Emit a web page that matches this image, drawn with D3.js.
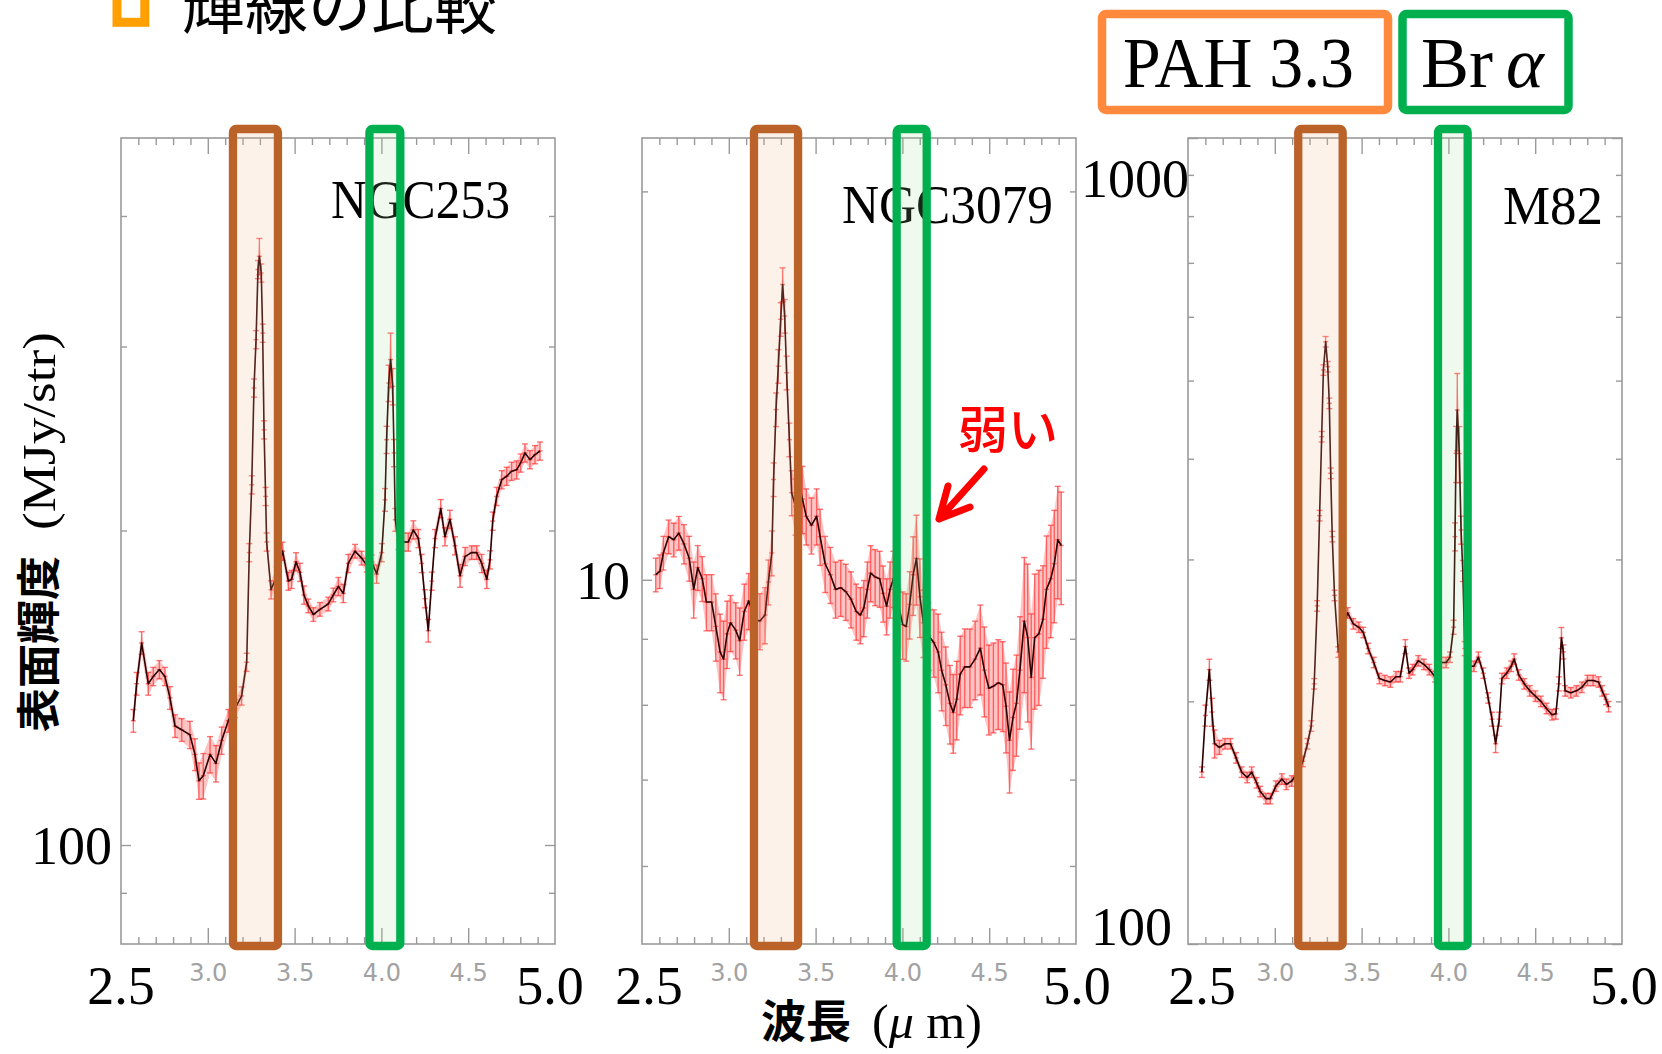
<!DOCTYPE html>
<html>
<head>
<meta charset="utf-8">
<script src="https://cdn.jsdelivr.net/npm/d3@7"></script>
<style>
  body { margin: 0; background: #fff; }
  svg { display: block; }
</style>
</head>
<body>
<svg id="chart" width="1662" height="1054"></svg>
<script>
// spectra: wavelength (um), surface brightness (MJy/str), error (%)
const ngc253Wave = [2.571,2.590,2.619,2.657,2.686,2.721,2.753,2.782,2.811,2.850,2.897,2.926,2.949,2.974,3.013,3.047,3.080,3.118,3.157,3.195,3.224,3.239,3.253,3.266,3.278,3.289,3.297,3.308,3.316,3.324,3.333,3.339,3.364,3.397,3.431,3.464,3.483,3.508,3.531,3.554,3.579,3.608,3.646,3.694,3.723,3.752,3.781,3.809,3.848,3.886,3.915,3.944,3.973,4.002,4.021,4.030,4.042,4.053,4.065,4.073,4.080,4.098,4.126,4.155,4.184,4.213,4.232,4.251,4.270,4.290,4.309,4.342,4.366,4.395,4.424,4.453,4.482,4.520,4.549,4.578,4.607,4.626,4.641,4.664,4.693,4.722,4.750,4.779,4.802,4.827,4.856,4.885,4.914];
const ngc253Flux = [131.5,142.7,156.1,142.7,145.0,147.2,145.0,138.3,130.0,128.9,127.5,122.1,115.2,116.5,122.1,119.7,125.9,131.5,135.1,138.9,149.6,190.5,221.2,273.8,304.6,355.5,366.0,352.8,309.0,249.7,215.6,195.0,175.5,181.0,191.1,178.9,179.6,186.7,182.4,173.5,169.4,166.2,168.1,170.1,173.5,176.8,174.1,186.0,191.1,188.2,185.3,186.7,181.7,190.5,214.0,244.3,276.8,291.5,274.8,237.3,204.8,195.7,195.0,195.0,200.3,196.5,186.0,172.1,160.4,178.9,196.5,209.9,197.3,205.0,193.4,181.0,188.9,190.5,190.5,186.0,179.6,187.5,204.2,215.6,223.7,225.4,227.9,228.6,232.1,237.3,233.8,236.4,238.3];
const ngc253Err = [2.5,2.5,2.5,2.5,2,2,2,2.5,2.5,2.5,3,3.5,4,5,4,4,3,2.5,2,2,2,2,2,2,2,2,4,2,2,2,2,2,2,2,2,2,2,2,2,2,1.5,1.5,1.5,1.5,1.5,2,2,2,1.5,1.5,1.5,1.5,2,2,2.5,3,4,6,4,3,2.5,2,2,2,2,2,2,2,2.5,2,2,2,2,2,2,2.5,2,1.5,1.5,2,2,2,2,2,2,2,2,2,2,2,2,2,2];

const ngc3079Wave = [2.579,2.603,2.623,2.653,2.683,2.712,2.742,2.772,2.798,2.821,2.847,2.871,2.901,2.925,2.950,2.970,2.990,3.010,3.040,3.063,3.089,3.115,3.149,3.179,3.209,3.228,3.248,3.258,3.272,3.285,3.299,3.310,3.322,3.333,3.349,3.362,3.384,3.402,3.424,3.446,3.476,3.506,3.526,3.555,3.585,3.615,3.645,3.674,3.704,3.734,3.758,3.778,3.798,3.817,3.843,3.869,3.889,3.909,3.929,3.948,3.972,4.002,4.022,4.042,4.062,4.081,4.101,4.121,4.151,4.181,4.206,4.226,4.250,4.274,4.293,4.313,4.333,4.359,4.389,4.419,4.449,4.472,4.498,4.524,4.552,4.578,4.597,4.617,4.637,4.657,4.677,4.702,4.722,4.742,4.762,4.786,4.810,4.830,4.855,4.875,4.895,4.915];
const ngc3079Flux = [10.09,10.15,10.49,10.80,10.74,10.87,10.66,10.39,9.83,10.22,10.02,9.61,9.61,9.20,8.79,8.68,9.08,9.26,9.14,8.97,9.45,9.63,9.32,9.29,9.39,9.96,10.49,11.96,13.55,14.64,15.92,16.94,16.01,14.47,12.84,11.68,11.40,11.90,11.55,11.20,11.02,11.20,10.80,10.29,10.09,9.83,9.86,9.79,9.66,9.45,9.39,9.51,9.83,10.12,10.05,10.02,9.76,9.54,9.83,10.02,9.63,9.23,9.20,9.57,10.09,10.39,9.70,9.26,9.05,8.94,8.79,8.51,8.29,8.02,7.89,8.08,8.45,8.56,8.56,8.68,8.85,8.51,8.24,8.27,8.32,8.29,7.98,7.51,7.82,8.02,8.51,9.29,9.02,8.40,9.02,9.08,9.32,9.83,10.02,10.29,10.74,10.63];
const ngc3079Err = [3,3,3,3,3,3,3.5,4,5,4,4,5,5,6,7,7,6,5,5,6,5,5,5,5,5,4,4,3,3,3,3,3,3,3,3,4,5,6,6,5,5,5,5,5,5,5,5,5,5,5,5,5,5,5,5,5,5,5,5,5,5,6,6,6,7,8,7,6,6,6,7,7,7,7,7,7,7,7,7,7,8,8,8,8,8,8,8,9,9,9,10,12,14,12,12,12,10,10,10,10,10,10];

const m82Wave = [2.580,2.600,2.623,2.638,2.653,2.681,2.713,2.745,2.777,2.809,2.841,2.867,2.895,2.916,2.949,2.974,3.006,3.041,3.066,3.098,3.131,3.162,3.188,3.210,3.227,3.244,3.258,3.270,3.280,3.293,3.305,3.314,3.322,3.331,3.344,3.366,3.395,3.420,3.452,3.484,3.510,3.538,3.570,3.602,3.634,3.666,3.698,3.723,3.752,3.773,3.794,3.826,3.859,3.890,3.923,3.955,3.987,4.009,4.030,4.038,4.044,4.051,4.063,4.073,4.083,4.094,4.116,4.147,4.173,4.201,4.229,4.251,4.272,4.293,4.308,4.336,4.362,4.379,4.405,4.437,4.469,4.501,4.533,4.565,4.597,4.619,4.636,4.651,4.662,4.672,4.705,4.737,4.769,4.801,4.833,4.865,4.886,4.908,4.923];
const m82Flux = [163.4,192.1,219.0,194.0,177.2,175.4,177.2,177.2,170.2,163.4,160.9,163.4,158.5,154.6,151.5,151.5,157.0,160.2,157.8,159.3,163.4,168.5,177.2,186.4,210.3,262.7,340.0,426.0,515.4,558.8,520.3,468.6,383.7,320.2,270.7,230.3,250.0,257.5,249.6,247.2,243.5,232.6,223.5,213.5,212.3,211.4,214.6,214.6,233.9,216.8,219.0,224.6,222.3,219.0,214.6,223.5,223.5,226.9,247.2,320.2,406.2,459.7,406.0,326.4,290.4,232.6,221.1,221.1,226.9,216.8,202.0,190.1,177.2,190.1,213.5,216.8,221.1,225.7,215.7,210.3,206.1,203.0,200.0,196.0,192.5,193.0,210.3,239.8,230.4,206.1,205.0,206.1,208.2,212.3,212.3,211.4,206.1,201.1,197.0];
const m82Err = [1.5,3,3,4,4,2,1.5,1.5,1.5,1.5,1.5,1.5,1.5,1.5,1.5,1.5,1.5,1.5,1.5,1.5,1.5,1.5,1.5,1.5,1.5,1.5,1.5,1.5,1.5,1.5,1.5,1.5,1.5,1.5,1.5,1.5,1.5,1.5,1.5,1.5,1.5,1.5,1.5,1.5,1.5,1.5,1.5,1.5,2,1.5,1.5,1.5,1.5,1.5,1.5,1.5,1.5,1.5,2,4,8,11,8,4,3,2,1.5,1.5,1.5,1.5,1.5,2,2.5,2,1.5,1.5,1.5,1.5,1.5,1.5,1.5,1.5,1.5,1.5,1.5,1.5,2,3,2,1.5,1.5,1.5,1.5,1.5,1.5,1.5,1.5,1.5,1.5];

const panelNames = ["NGC253", "NGC3079", "M82"];
const yDomains = [[80.4, 475], [5.22, 22.0], [100, 1000]];
const yMajorTicks = [[100], [10], [100, 1000]];
const yMinorTicks = [[90, 200, 300, 400], [6, 7, 8, 9, 20], [200, 300, 400, 500, 600, 700, 800, 900]];
const yBigLabels = [["100"], ["10"], ["1000", "100"]];
const xMajorTicks = [3.0, 3.5, 4.0, 4.5];
const xMinorTicks = [2.6, 2.7, 2.8, 2.9, 3.1, 3.2, 3.3, 3.4, 3.6, 3.7, 3.8, 3.9, 4.1, 4.2, 4.3, 4.4, 4.6, 4.7, 4.8, 4.9];
const xEdgeLabels = ["2.5", "5.0"];
const pahBoxes = [[3.145, 3.404], [3.145, 3.399], [3.135, 3.391]];
const braBoxes = [[3.931, 4.109], [3.967, 4.140], [3.940, 4.111]];

const spectra = [
  { wave: ngc253Wave, flux: ngc253Flux, err: ngc253Err },
  { wave: ngc3079Wave, flux: ngc3079Flux, err: ngc3079Err },
  { wave: m82Wave, flux: m82Flux, err: m82Err }
];

const svg = d3.select("#chart");
const serif = "'Liberation Serif', 'DejaVu Serif', serif";
const cjk = "'Noto Sans CJK JP', 'Noto Sans', sans-serif";

// layout of the three panels
const panelLeft = [121, 642, 1188];
const plotTop = 138, W = 434, H = 806, plotBottom = plotTop + H;
const nameRight = [510, 1053, 1603];
const nameBase = [218, 223, 224];
const nameLen = [179, 211, 100];
// big hand-placed numbers: x-edge label shifts, y labels (right edge, centre)
const edgeLabelDx = [[0, -5], [7, 1], [14, 2]];
const bigLabelPos = [[[112, 845]], [[630, 580]], [[1189, 178], [1172, 926]]];

panelNames.forEach((name, i) => {
  const left = panelLeft[i], right = left + W;
  const x = d3.scaleLinear().domain([2.5, 5.0]).range([left, right]);
  const y = d3.scaleLog().domain(yDomains[i]).range([plotBottom, plotTop]);
  const g = svg.append("g");

  // frame + inward ticks
  const axes = g.append("g").attr("class", "axes");
  axes.append("g").attr("transform", `translate(0,${plotBottom})`)
      .call(d3.axisBottom(x).tickValues(xMinorTicks).tickSize(-7).tickFormat(""));
  axes.append("g").attr("transform", `translate(0,${plotBottom})`)
      .call(d3.axisBottom(x).tickValues(xMajorTicks).tickSize(-16).tickPadding(20).tickFormat(d3.format(".1f")));
  axes.append("g").attr("transform", `translate(0,${plotTop})`)
      .call(d3.axisTop(x).tickValues(xMinorTicks).tickSize(-7).tickFormat(""));
  axes.append("g").attr("transform", `translate(0,${plotTop})`)
      .call(d3.axisTop(x).tickValues(xMajorTicks).tickSize(-16).tickFormat(""));
  axes.append("g").attr("transform", `translate(${left},0)`)
      .call(d3.axisLeft(y).tickValues(yMinorTicks[i]).tickSize(-6).tickFormat(""));
  axes.append("g").attr("transform", `translate(${left},0)`)
      .call(d3.axisLeft(y).tickValues(yMajorTicks[i]).tickSize(-10).tickFormat(""));
  axes.append("g").attr("transform", `translate(${right},0)`)
      .call(d3.axisRight(y).tickValues(yMinorTicks[i]).tickSize(-6).tickFormat(""));
  axes.append("g").attr("transform", `translate(${right},0)`)
      .call(d3.axisRight(y).tickValues(yMajorTicks[i]).tickSize(-10).tickFormat(""));
  axes.selectAll(".domain").remove();
  axes.selectAll("line").attr("stroke", "#9a9a9a").attr("stroke-width", 1.4);
  axes.selectAll("text")
      .attr("fill", "#a2a2a2")
      .style("font-family", "'DejaVu Sans', sans-serif")
      .style("font-size", "24px");

  g.append("rect")
      .attr("x", left).attr("y", plotTop).attr("width", W).attr("height", H)
      .attr("fill", "none").attr("stroke", "#9a9a9a").attr("stroke-width", 1.6);

  // spectrum with error band and bars
  const s = spectra[i];
  const pts = s.wave.map((w, k) => ({ w: w, f: s.flux[k], e: s.err[k] / 100 }));
  g.append("path")
      .datum(pts)
      .attr("fill", "#ff4040").attr("fill-opacity", 0.3)
      .attr("d", d3.area().x(d => x(d.w)).y0(d => y(d.f * (1 - d.e))).y1(d => y(d.f * (1 + d.e))));
  const eb = g.append("g").attr("stroke", "#ff2a2a").attr("stroke-opacity", 0.65).attr("stroke-width", 1.4);
  pts.forEach(p => {
    const xp = x(p.w), y1 = y(p.f * (1 + p.e)), y0 = y(p.f * (1 - p.e));
    eb.append("line").attr("x1", xp).attr("x2", xp).attr("y1", y1).attr("y2", y0);
    eb.append("line").attr("x1", xp - 3).attr("x2", xp + 3).attr("y1", y1).attr("y2", y1);
    eb.append("line").attr("x1", xp - 3).attr("x2", xp + 3).attr("y1", y0).attr("y2", y0);
    eb.append("line").attr("x1", xp - 2.5).attr("x2", xp + 2.5).attr("y1", y(p.f)).attr("y2", y(p.f));
  });
  g.append("path")
      .datum(pts)
      .attr("fill", "none")
      .attr("stroke", "#2a0000")
      .attr("stroke-width", 1.6)
      .attr("stroke-linejoin", "round")
      .attr("d", d3.line().x(d => x(d.w)).y(d => y(d.f)));

  // galaxy name
  g.append("text")
      .attr("x", nameRight[i]).attr("y", nameBase[i])
      .attr("text-anchor", "end")
      .attr("textLength", nameLen[i]).attr("lengthAdjust", "spacingAndGlyphs")
      .style("font-family", serif).style("font-size", "54px")
      .text(name);

  // highlighted line windows
  [[pahBoxes[i], "#ba6228", "rgba(246,190,150,0.2)"], [braBoxes[i], "#00b04f", "rgba(160,215,140,0.16)"]]
    .forEach(([b, stroke, fill]) => {
      g.append("rect")
          .attr("x", x(b[0])).attr("y", plotTop - 9)
          .attr("width", x(b[1]) - x(b[0])).attr("height", H + 11)
          .attr("rx", 3)
          .attr("fill", fill).attr("stroke", stroke).attr("stroke-width", 8.3);
    });

  // big axis labels
  x.range().forEach((xp, k) => {
    svg.append("text")
        .attr("x", xp + edgeLabelDx[i][k]).attr("y", 1004)
        .attr("text-anchor", "middle")
        .style("font-family", serif).style("font-size", "54px")
        .text(xEdgeLabels[k]);
  });
  yBigLabels[i].forEach((lab, k) => {
    svg.append("text")
        .attr("x", bigLabelPos[i][k][0]).attr("y", bigLabelPos[i][k][1])
        .attr("dy", "0.35em")
        .attr("text-anchor", "end")
        .style("font-family", serif).style("font-size", "54px")
        .text(lab);
  });
});

// slide title (cut off at the top)
svg.append("rect")
    .attr("x", 117).attr("y", -5.5).attr("width", 27.8).attr("height", 27.8)
    .attr("fill", "none").attr("stroke", "#ffa000").attr("stroke-width", 9);
svg.append("text")
    .attr("x", 182).attr("y", 28)
    .style("font-family", cjk).style("font-size", "63px")
    .text("輝線の比較");

// legend boxes
svg.append("rect").attr("x", 1102).attr("y", 14).attr("width", 286).attr("height", 96).attr("rx", 4)
    .attr("fill", "#fff").attr("stroke", "#ff8a3d").attr("stroke-width", 8.5);
svg.append("rect").attr("x", 1402.5).attr("y", 14).attr("width", 166).attr("height", 96).attr("rx", 4)
    .attr("fill", "#fff").attr("stroke", "#00b04f").attr("stroke-width", 8.5);
svg.append("text").attr("x", 1123).attr("y", 87)
    .attr("textLength", 231).attr("lengthAdjust", "spacingAndGlyphs")
    .style("font-family", serif).style("font-size", "72px")
    .text("PAH 3.3");
svg.append("text").attr("x", 1421).attr("y", 87)
    .style("font-family", serif).style("font-size", "72px")
    .text("Br");
svg.append("text").attr("x", 1506).attr("y", 87)
    .style("font-family", serif).style("font-size", "72px").style("font-style", "italic")
    .text("α");

// axis titles
const yt = svg.append("g").attr("transform", "translate(55,732) rotate(-90)");
yt.append("text").attr("x", 0).attr("y", 0)
    .style("font-family", cjk).style("font-size", "44px").style("font-weight", 700)
    .text("表面輝度");
yt.append("text").attr("x", 202).attr("y", 0)
    .attr("textLength", 198).attr("lengthAdjust", "spacingAndGlyphs")
    .style("font-family", serif).style("font-size", "46px")
    .text("(MJy/str)");

svg.append("text").attr("x", 761).attr("y", 1038)
    .style("font-family", cjk).style("font-size", "45px").style("font-weight", 700)
    .text("波長");
const xt = svg.append("text").attr("x", 872).attr("y", 1038)
    .attr("textLength", 110).attr("lengthAdjust", "spacingAndGlyphs")
    .style("font-family", serif).style("font-size", "48px");
xt.append("tspan").text("(");
xt.append("tspan").style("font-style", "italic").text("μ");
xt.append("tspan").text(" m)");

// annotation
svg.append("text").attr("x", 958).attr("y", 448)
    .attr("fill", "#ff0000")
    .style("font-family", cjk).style("font-size", "50px").style("font-weight", 500)
    .text("弱い");
svg.append("path")
    .attr("d", "M984,469 L939,519 M948,486 L939,519 L970,507")
    .attr("fill", "none").attr("stroke", "#ff0000").attr("stroke-width", 7)
    .attr("stroke-linecap", "round").attr("stroke-linejoin", "round");
</script>
</body>
</html>
